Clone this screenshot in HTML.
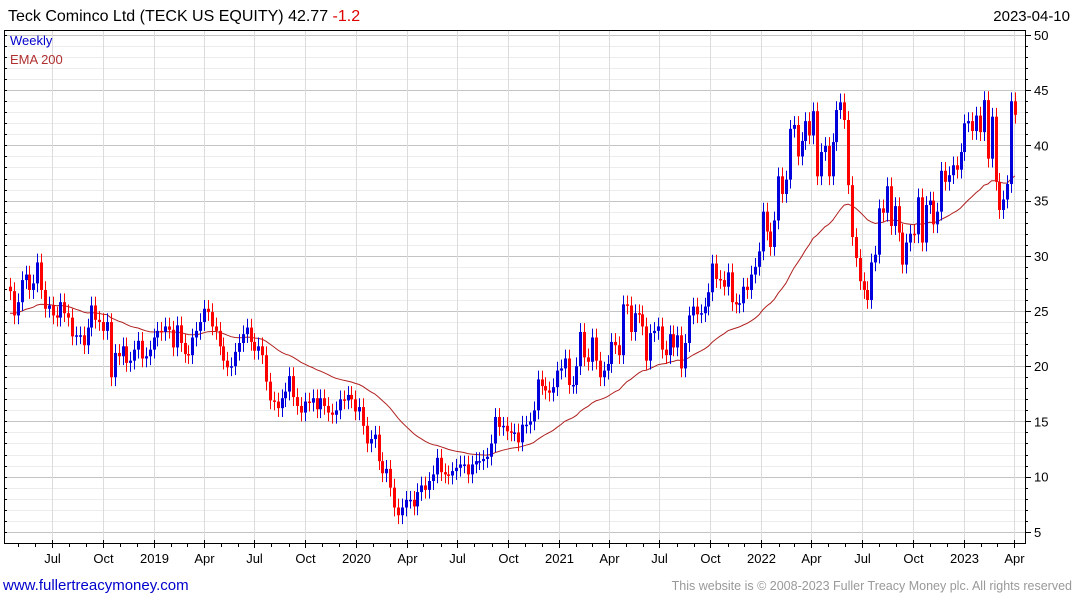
<!DOCTYPE html>
<html><head><meta charset="utf-8"><style>
body{margin:0;background:#fff;}
svg{display:block;font-family:"Liberation Sans",sans-serif;}
</style></head><body>
<svg id="chart" width="1075" height="600" viewBox="0 0 1075 600">
<rect x="0" y="0" width="1075" height="600" fill="#fff"/>
<g id="grid"></g>
<g id="ema"></g>
<g id="candles"></g>
<g id="axes"></g>
<text x="8" y="21" font-size="16" fill="#000">Teck Cominco Ltd (TECK US EQUITY) 42.77 <tspan fill="#e00000">-1.2</tspan></text>
<text x="1070" y="21" font-size="15" fill="#000" text-anchor="end">2023-04-10</text>
<text x="10" y="45" font-size="13" fill="#0000cc">Weekly</text>
<text x="10" y="64" font-size="13" fill="#b03030">EMA 200</text>
<text x="3" y="590" font-size="15" fill="#0000cc">www.fullertreacymoney.com</text>
<text x="1072" y="590" font-size="12.5" fill="#999" text-anchor="end">This website is © 2008-2023 Fuller Treacy Money plc. All rights reserved</text>
</svg>
<script>
const closes = [
26.8,24.6,25.8,27.8,28.3,26.9,27.5,29.4,26.9,25.2,25.5,24.6,24.4,25.8,24.8,24.4,22.7,22.8,22.8,21.9,23.5,25.5,24.2,24.0,23.2,24.0,19.0,21.2,20.9,21.8,20.3,20.5,21.5,22.3,20.7,20.9,21.5,22.6,23.2,23.1,23.6,23.3,21.7,23.7,22.1,21.1,21.0,22.6,23.2,24.0,25.2,24.9,23.6,23.2,21.8,20.5,19.9,20.0,21.3,22.1,22.9,23.5,22.2,21.4,21.8,21.0,18.6,
16.9,16.8,16.2,17.1,17.7,19.1,17.2,16.4,15.8,16.8,16.7,17.1,16.1,17.1,16.4,15.8,15.6,16.0,17.0,16.9,17.4,17.0,15.9,16.3,14.6,13.0,13.4,13.8,11.4,10.3,10.7,9.0,7.2,6.5,7.2,7.9,7.9,7.3,8.6,9.2,8.8,9.6,10.2,11.7,10.4,10.2,10.1,10.5,10.8,11.1,11.1,10.2,11.1,11.4,11.4,11.6,11.8,13.0,15.4,14.5,14.6,14.1,14.0,14.0,13.1,14.7,14.7,
15.0,16.0,18.8,18.2,17.8,17.6,18.1,19.6,19.8,20.7,18.3,18.3,20.0,23.1,20.8,20.4,22.6,20.5,19.0,19.6,20.2,22.2,21.9,21.0,25.6,25.5,23.1,24.8,24.7,23.6,20.5,23.0,23.2,23.6,21.5,21.0,22.9,21.7,22.8,19.8,22.1,24.6,25.4,24.7,24.8,25.4,26.7,29.3,27.9,27.8,27.2,28.5,25.8,25.6,25.7,27.2,26.9,28.3,29.0,30.4,34.0,32.2,30.8,33.2,37.2,
35.6,36.9,41.5,41.85,39.0,40.4,42.2,40.9,43.1,37.2,39.4,39.95,37.2,40.3,43.2,43.9,42.3,36.4,31.7,29.8,27.7,26.9,26.0,29.4,30.1,34.3,33.9,36.3,32.7,34.5,32.1,29.2,31.2,32.0,31.95,35.3,31.2,34.6,35.0,32.85,34.0,37.7,36.7,37.3,38.2,37.8,39.4,42.0,42.2,41.3,42.7,41.2,44.1,38.8,42.6,36.7,34.15,35.1,36.5,44.0,42.77];
const firstOpen = 27.2;
const emaSeed = 24.7;
const yTicks = [5,10,15,20,25,30,35,40,45,50];
const xLabels = ["Jul","Oct","2019","Apr","Jul","Oct","2020","Apr","Jul","Oct","2021","Apr","Jul","Oct","2022","Apr","Jul","Oct","2023","Apr"];
const xLabelDates = ["2018-07-01","2018-10-01","2019-01-01","2019-04-01","2019-07-01","2019-10-01","2020-01-01","2020-04-01","2020-07-01","2020-10-01","2021-01-01","2021-04-01","2021-07-01","2021-10-01","2022-01-01","2022-04-01","2022-07-01","2022-10-01","2023-01-01","2023-04-01"];

const NS="http://www.w3.org/2000/svg";
const L=4,R=1025,T=30,B=543;
function yS(p){return 35+(50-p)*11.04;}
function xI(i){return 10+i*3.88;}
const d0=Date.parse("2018-07-01");
function xD(s){return 52+(Date.parse(s)-d0)/86400000/7*3.88;}
function mk(tag,attrs,parent){const e=document.createElementNS(NS,tag);for(const k in attrs)e.setAttribute(k,attrs[k]);parent.appendChild(e);return e;}
const grid=document.getElementById('grid'),axes=document.getElementById('axes'),cg=document.getElementById('candles'),eg=document.getElementById('ema');

for(let p=5;p<=50;p++){
  const y=Math.round(yS(p))+0.5;
  const ln=mk('line',{x1:L,x2:R,y1:y,y2:y,stroke:p%5===0?'#c4c4c4':'#ececec','stroke-width':1},grid);
  
  
}
for(let i=0;i<xLabelDates.length;i++){
  const x=Math.round(xD(xLabelDates[i]))+0.5;
  const ln=mk('line',{x1:x,x2:x,y1:T,y2:B,stroke:'#dcdcdc','stroke-width':1},grid);
  
  
  const tk=mk('line',{x1:x,x2:x,y1:B-3,y2:B+5,stroke:'#000','stroke-width':1},axes);
  
  
  const t=mk('text',{x:x,y:563,'font-size':13,'text-anchor':'middle',fill:'#000'},axes);
  t.textContent=xLabels[i];
  
  
}
for(let m=0;m<62;m++){
  const dt=new Date(Date.UTC(2018,3+m,1));
  const x=Math.round(52+(dt-d0)/86400000/7*3.88)+0.5;
  if(x<L||x>R)continue;
  const tk=mk('line',{x1:x,x2:x,y1:B,y2:B+4,stroke:'#000','stroke-width':1},axes);
  
  
}
mk('rect',{x:L+0.5,y:T+0.5,width:R-L,height:B-T,fill:'none',stroke:'#000','stroke-width':1},axes);
for(let p=5;p<=50;p++){
  const y=Math.round(yS(p))+0.5;
  const tk=mk('line',{x1:R,x2:R+(p%5===0?6:3),y1:y,y2:y,stroke:'#000','stroke-width':1},axes);
  
  
  const tl=mk('line',{x1:L,x2:L+3,y1:y,y2:y,stroke:'#000','stroke-width':1},axes);
  
  
}
yTicks.forEach(v=>{
  const t=mk('text',{x:1034,y:yS(v)+5,'font-size':13,fill:'#000'},axes);
  t.textContent=v;
  
  
});

let prev=firstOpen;
closes.forEach((c,i)=>{
  const o=prev; prev=c;
  const hi=Math.max(o,c)+0.8, lo=Math.min(o,c)-0.8;
  const col=c>=o?'#0000dd':'#ff0000';
  const x=Math.round(xI(i));
  const g=mk('g',{},cg);
  
  
  mk('line',{x1:x+0.5,x2:x+0.5,y1:yS(hi),y2:yS(lo),stroke:col,'stroke-width':1},g);
  const y1=yS(Math.max(o,c)),y2=yS(Math.min(o,c));
  mk('rect',{x:x-1,y:y1,width:3,height:Math.max(1.5,y2-y1),fill:col},g);
});

let e=emaSeed;const a=2/41;let pts=[];
closes.forEach((c,i)=>{e=e+a*(c-e);pts.push(xI(i).toFixed(1)+','+yS(e).toFixed(1));});
const pl=mk('polyline',{points:pts.join(' '),fill:'none',stroke:'#b02020','stroke-width':1},eg);


</script>
</body></html>
